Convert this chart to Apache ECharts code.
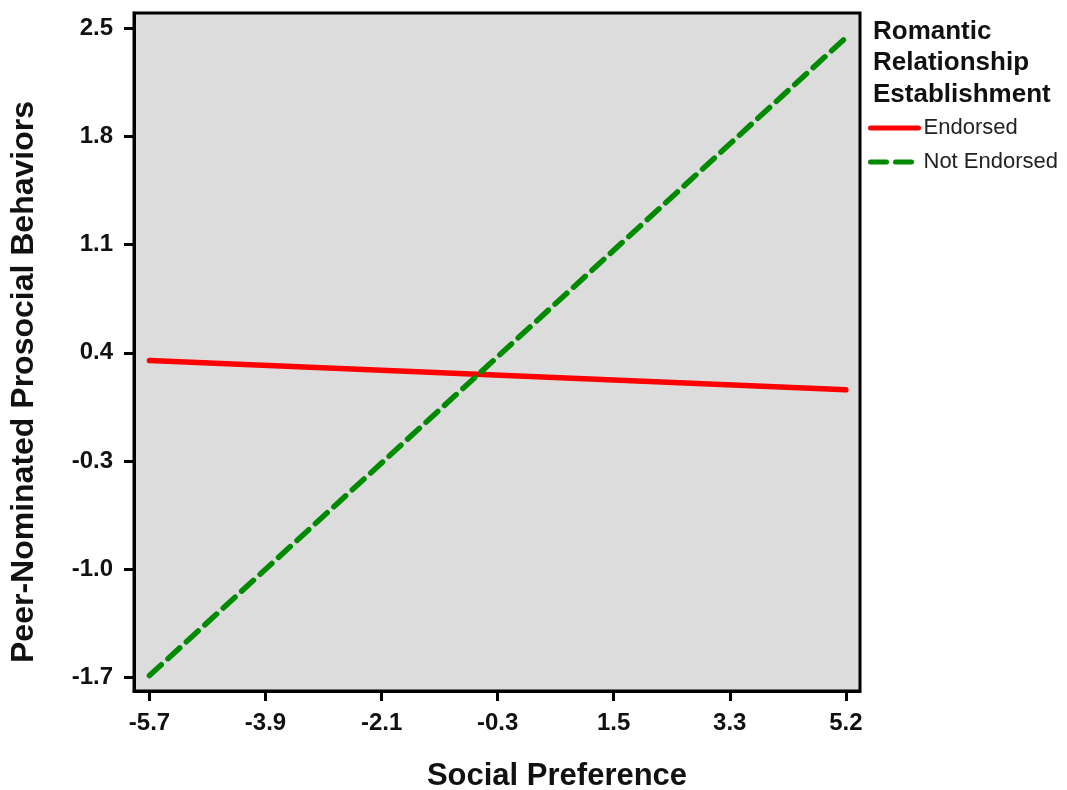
<!DOCTYPE html>
<html>
<head>
<meta charset="utf-8">
<script src="https://cdn.jsdelivr.net/npm/echarts@6/dist/echarts.min.js"></script>
<style>
html,body{margin:0;padding:0;background:#fff;}
#chart{width:1067px;height:790px;}
</style>
</head>
<body>
<div id="chart"></div>
<script>
// Data
const seriesNames = ['Endorsed', 'Not Endorsed'];
const xEnds = [-5.7, 5.1];
const endorsedValues = [0.35, 0.16];
const notEndorsedValues = [-1.69, 2.44];
const xTickValues = [-5.7, -3.9, -2.1, -0.3, 1.5, 3.3, 5.1];
const xTickLabels = ['-5.7', '-3.9', '-2.1', '-0.3', '1.5', '3.3', '5.2'];
const yTickValues = [-1.7, -1.0, -0.3, 0.4, 1.1, 1.8, 2.5];
const yTickLabels = ['-1.7', '-1.0', '-0.3', '0.4', '1.1', '1.8', '2.5'];
const legendTitle = 'Romantic\nRelationship\nEstablishment';
const xTitle = 'Social Preference';
const yTitle = 'Peer-Nominated Prosocial Behaviors';

const FONT = 'Liberation Sans, Arial, sans-serif';
function labelFor(values, labels, v) {
  let best = 0;
  for (let i = 0; i < values.length; i++) {
    if (Math.abs(values[i] - v) < Math.abs(values[best] - v)) best = i;
  }
  return labels[best];
}

const chart = echarts.init(document.getElementById('chart'), null, {renderer: 'canvas'});
chart.setOption({
  animation: false,
  backgroundColor: '#ffffff',
  title: {
    text: legendTitle,
    left: 868, top: 11, padding: 5,
    textStyle: {fontFamily: FONT, fontWeight: 'bold', fontSize: 26, lineHeight: 31.5, color: '#111'}
  },
  legend: {
    orient: 'vertical',
    left: 863, top: 112,
    itemWidth: 48, itemHeight: 14, itemGap: 12,
    data: seriesNames,
    itemStyle: {opacity: 0},
    lineStyle: {width: 5},
    textStyle: {fontFamily: FONT, fontSize: 22, color: '#222'}
  },
  grid: {
    left: 134, right: 207, top: 13, bottom: 99,
    containLabel: false, outerBoundsMode: 'none',
    show: true, backgroundColor: '#dcdcdc', borderColor: '#000', borderWidth: 3
  },
  xAxis: {
    type: 'value', min: -5.94, max: 5.32,
    name: xTitle, nameLocation: 'middle', nameGap: 70,
    nameTextStyle: {fontFamily: FONT, fontWeight: 'bold', fontSize: 31, color: '#111', padding: [0, 0, 0, 120]},
    axisLine: {show: true, onZero: false, lineStyle: {color: '#000', width: 3}},
    axisTick: {show: true, inside: false, length: 10, lineStyle: {color: '#000', width: 3}, customValues: xTickValues},
    axisLabel: {show: true, margin: 20, customValues: xTickValues,
      formatter: v => labelFor(xTickValues, xTickLabels, v),
      fontFamily: FONT, fontWeight: 'bold', fontSize: 24, color: '#111'},
    splitLine: {show: false}
  },
  yAxis: {
    type: 'value', min: -1.79, max: 2.6,
    name: yTitle, nameLocation: 'middle', nameGap: 94,
    nameTextStyle: {fontFamily: FONT, fontWeight: 'bold', fontSize: 32, color: '#111', padding: [0, 60, 0, 0]},
    axisLine: {show: true, onZero: false, lineStyle: {color: '#000', width: 3}},
    axisTick: {show: true, inside: false, length: 10, lineStyle: {color: '#000', width: 3}, customValues: yTickValues},
    axisLabel: {show: true, margin: 21, customValues: yTickValues,
      formatter: v => labelFor(yTickValues, yTickLabels, v),
      fontFamily: FONT, fontWeight: 'bold', fontSize: 24, color: '#111'},
    splitLine: {show: false}
  },
  series: [
    {
      name: seriesNames[0], type: 'line', symbol: 'none',
      data: xEnds.map((x, i) => [x, endorsedValues[i]]),
      lineStyle: {color: '#ff0000', width: 5.5, cap: 'round'},
      itemStyle: {color: '#ff0000'}
    },
    {
      name: seriesNames[1], type: 'line', symbol: 'none',
      data: xEnds.map((x, i) => [x, notEndorsedValues[i]]),
      lineStyle: {color: '#008a00', width: 5.5, type: [16, 9], cap: 'round'},
      itemStyle: {color: '#008a00'}
    }
  ]
});
</script>
</body>
</html>
